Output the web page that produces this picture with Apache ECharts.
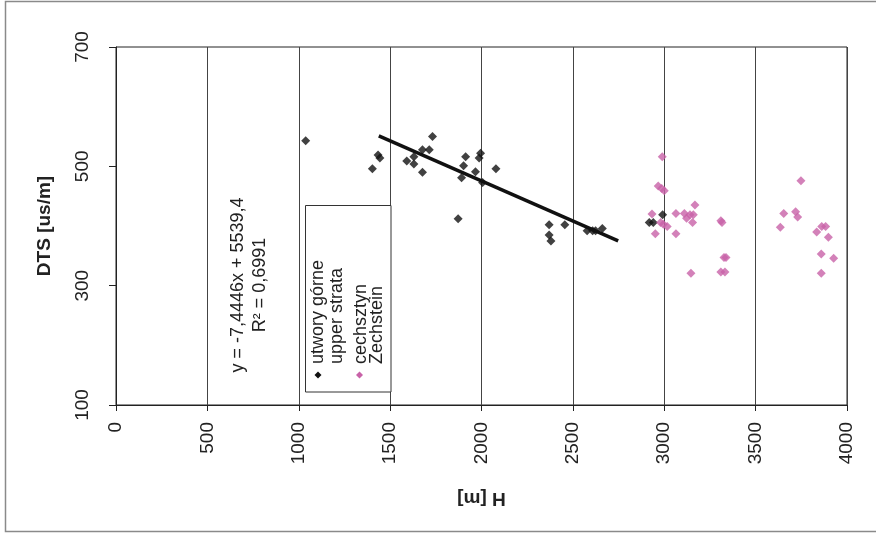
<!DOCTYPE html>
<html>
<head>
<meta charset="utf-8">
<script src="https://cdn.jsdelivr.net/npm/echarts@6/dist/echarts.min.js"></script>
<style>
html,body{margin:0;padding:0;background:#fff;}
#chart{width:876px;height:535px;}
</style>
</head>
<body>
<div id="chart"></div>
<script>
// Data
const upperH   = [1038,1434,1444,1403,1732,1677,1714,1630,1591,1630,1677,1913,1902,1891,1987,1995,1967,2006,2079,1872,2370,2370,2380,2456,2578,2608,2624,2661,2991,2918,2940];
const upperDTS = [ 543, 519, 514, 496, 550, 528, 528, 516, 509, 504, 490, 516, 501, 481, 514, 522, 491, 473, 496, 412, 402, 385, 375, 402, 392, 392, 392, 396, 419, 406, 406];
const zechH    = [2989,2967,2986,3000,2933,3064,3110,3168,3122,3141,3159,3155,2980,2995,3016,2951,3064,3310,3316,3338,3327,3310,3332,3146,3748,3654,3719,3730,3635,3834,3862,3883,3898,3859,3927,3859];
const zechDTS  = [ 516, 467, 463, 459, 420, 421, 421, 435, 413, 419, 419, 406, 406, 403, 399, 387, 387, 409, 406, 347, 347, 323, 323, 321, 476, 421, 424, 415, 398, 390, 399, 399, 381, 353, 346, 321];
const trendH   = [1438, 2748];
const trendDTS = [ 551,  375];
const seriesNames = ['utwory górne\nupper strata', 'cechsztyn\nZechstein'];
const equationText = 'y = -7,4446x + 5539,4\nR² = 0,6991';
const xAxisName = 'H [m]';
const yAxisName = 'DTS [us/m]';

const zip = (a, b) => a.map((v, i) => [v, b[i]]);
const FONT = 'Liberation Sans, Arial, sans-serif';
const BLACK = '#111';
const PINK = '#c862a8';

const chart = echarts.init(document.getElementById('chart'));
chart.setOption({
  animation: false,
  backgroundColor: '#fff',
  grid: { left: 116, top: 47, right: 29, bottom: 130, show: true, borderColor: '#222', borderWidth: 1 },
  xAxis: {
    type: 'value', min: 0, max: 4000, interval: 500,
    name: xAxisName, nameLocation: 'middle', nameGap: 84, nameRotate: 180,
    nameTextStyle: { fontFamily: FONT, fontSize: 19, fontWeight: 'bold', color: '#222' },
    axisLine: { lineStyle: { color: '#222', width: 1 } },
    axisTick: { show: true, length: 6, lineStyle: { color: '#222' } },
    axisLabel: { rotate: 90, margin: 17, fontFamily: FONT, fontSize: 19, color: '#222',
                 formatter: v => String(v) },
    splitLine: { show: true, lineStyle: { color: '#444', width: 1 } }
  },
  yAxis: {
    type: 'value', min: 100, max: 700, interval: 200,
    name: yAxisName, nameLocation: 'middle', nameGap: 62, nameRotate: 90,
    nameTextStyle: { fontFamily: FONT, fontSize: 19, fontWeight: 'bold', color: '#222' },
    axisLine: { show: true, lineStyle: { color: '#222', width: 1 } },
    axisTick: { show: true, length: 7, lineStyle: { color: '#222' } },
    axisLabel: { rotate: 90, margin: 24, fontFamily: FONT, fontSize: 19, color: '#222',
                 formatter: v => String(v) },
    splitLine: { show: false }
  },
  series: [
    { name: seriesNames[0], type: 'scatter', symbol: 'diamond', symbolSize: 9,
      itemStyle: { color: BLACK }, data: zip(upperH, upperDTS) },
    { name: seriesNames[1], type: 'scatter', symbol: 'diamond', symbolSize: 9,
      itemStyle: { color: PINK }, data: zip(zechH, zechDTS) },
    { type: 'line', showSymbol: false, symbol: 'none', silent: true,
      lineStyle: { color: BLACK, width: 3.5 }, data: zip(trendH, trendDTS) }
  ],
  graphic: [
    { type: 'rect', shape: { x: 5.5, y: 1.5, width: 872, height: 530 },
      style: { fill: 'none', stroke: '#8a8a8a', lineWidth: 1.5 }, silent: true, z: 100 },
    { type: 'text', x: 249, y: 285, rotation: Math.PI / 2,
      style: { text: equationText, fontFamily: FONT, fontSize: 18, lineHeight: 22, fill: '#222',
               align: 'center', verticalAlign: 'middle' }, z: 100 },
    { type: 'rect', shape: { x: 305.5, y: 205.5, width: 85.5, height: 186.5 },
      style: { fill: '#fff', stroke: '#333', lineWidth: 1 }, z: 100 },
    { type: 'text', x: 328, y: 364, rotation: Math.PI / 2,
      style: { text: seriesNames[0], fontFamily: FONT, fontSize: 18, lineHeight: 19, fill: '#222',
               align: 'left', verticalAlign: 'middle' }, z: 101 },
    { type: 'text', x: 369, y: 364, rotation: Math.PI / 2,
      style: { text: seriesNames[1], fontFamily: FONT, fontSize: 18, lineHeight: 16, fill: '#222',
               align: 'left', verticalAlign: 'middle' }, z: 101 },
    { type: 'polygon', shape: { points: [[318, 371.5], [321.5, 375], [318, 378.5], [314.5, 375]] },
      style: { fill: BLACK }, z: 101 },
    { type: 'polygon', shape: { points: [[359.5, 371.5], [363, 375], [359.5, 378.5], [356, 375]] },
      style: { fill: PINK }, z: 101 }
  ]
});
</script>
</body>
</html>
